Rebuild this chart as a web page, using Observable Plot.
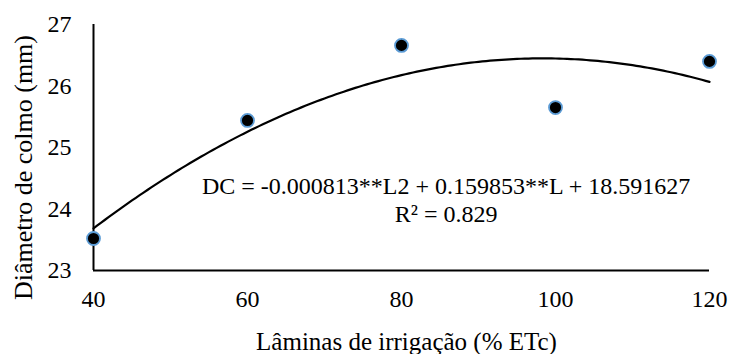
<!DOCTYPE html>
<html>
<head>
<meta charset="utf-8">
<script src="https://cdn.jsdelivr.net/npm/d3@7"></script>
<script src="https://cdn.jsdelivr.net/npm/@observablehq/plot@0.6"></script>
<style>
  html, body { margin: 0; padding: 0; background: #fff; }
  #chart { width: 749px; height: 354px; }
  #chart svg, #chart svg text { font-family: "Liberation Serif", "Times New Roman", Times, serif !important; font-variant-numeric: normal !important; }
</style>
</head>
<body>
<div id="chart"></div>
<script>
// Data
const laminas = [40, 60, 80, 100, 120];
const diametro = [23.52, 25.44, 26.66, 25.65, 26.40];
// Trendline coefficients (as printed on the chart): a*L^2 + b*L + c
const coefs = [-0.000813, 0.159853, 18.591627];
const xTicks = [40, 60, 80, 100, 120];
const yTicks = [23, 24, 25, 26, 27];
const xTitle = "Lâminas de irrigação (% ETc)";
const yTitle = "Diâmetro de colmo (mm)";
const eqLines = ["DC = -0.000813**L2 + 0.159853**L + 18.591627", "R² = 0.829"];
const eqPos = [{x: 85.8, y: 24.37}, {x: 85.8, y: 23.91}];

const points = laminas.map((L, i) => ({L, DC: diametro[i]}));
const curve = d3.range(40, 120.5, 0.5).map(L => ({L, DC: coefs[0]*L*L + coefs[1]*L + coefs[2]}));
const eqData = eqLines.map((t, i) => ({t, x: eqPos[i].x, y: eqPos[i].y}));

const font = "Liberation Serif";

const chart = Plot.plot({
  width: 749,
  height: 354,
  marginLeft: 93,
  marginRight: 40,
  marginTop: 24,
  marginBottom: 84,
  style: {fontFamily: font, fontSize: "24px", color: "#000", background: "#fff"},
  x: {domain: [40, 120]},
  y: {domain: [23, 27]},
  marks: [
    Plot.axisX({ticks: xTicks, tickFormat: d => String(d), tickSize: 0, tickPadding: 19, fontSize: 24, fontFamily: font, label: null}),
    Plot.axisY({ticks: yTicks, tickFormat: d => String(d), tickSize: 0, tickPadding: 22, fontSize: 24, fontFamily: font, label: null}),
    Plot.text([xTitle], {frameAnchor: "bottom", textAnchor: "middle", dx: 5, dy: 71, text: d => d, fontSize: 25, fontFamily: font, fill: "#000", lineAnchor: "middle"}),
    Plot.text([yTitle], {frameAnchor: "left", textAnchor: "middle", rotate: -90, dx: -70, dy: 20, text: d => d, fontSize: 26, fontFamily: font, fill: "#000", lineAnchor: "middle"}),
    Plot.ruleX([40], {stroke: "#000", strokeWidth: 2}),
    Plot.ruleY([23], {stroke: "#000", strokeWidth: 2}),
    Plot.line(curve, {x: "L", y: "DC", stroke: "#000", strokeWidth: 2.2}),
    Plot.dot(points, {x: "L", y: "DC", r: 6.5, fill: "#000", stroke: "#5b9bd5", strokeWidth: 1.8}),
    Plot.text(eqData, {x: "x", y: "y", text: "t", fontSize: 24, fontFamily: font, fill: "#000", textAnchor: "middle", lineAnchor: "middle"})
  ]
});
document.getElementById("chart").appendChild(chart);
</script>
</body>
</html>
